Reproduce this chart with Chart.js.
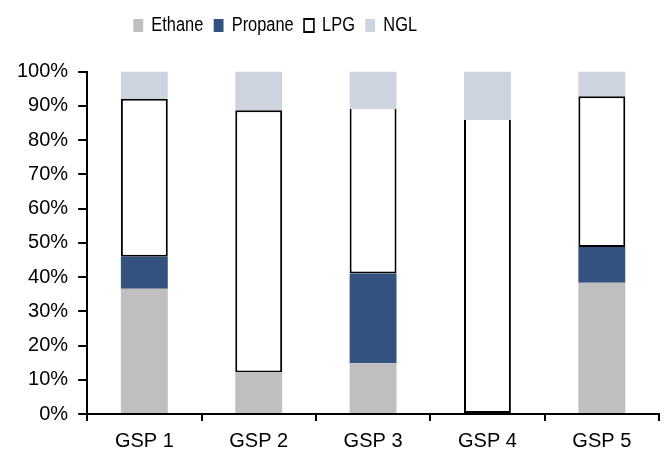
<!DOCTYPE html>
<html>
<head>
<meta charset="utf-8">
<script src="https://cdn.jsdelivr.net/npm/chart.js@4"></script>
<style>
  html, body { margin: 0; padding: 0; background: #fff; }
  #wrap { width: 666px; height: 453px; }
</style>
</head>
<body>
<div id="wrap"><canvas id="chart"></canvas></div>
<script>
// category labels and shares (%)
var plants  = ["GSP 1", "GSP 2", "GSP 3", "GSP 4", "GSP 5"];
var ethane  = [36.6, 12.1, 14.8, 0, 38.3];
var propane = [9.3, 0, 26.2, 0, 10.5];
var lpg     = [46.2, 76.6, 48.1, 85.9, 44.0];
var ngl     = [7.9, 11.3, 10.9, 14.1, 7.2];

var FONT = "'Liberation Sans', Arial, sans-serif";
var SQUEEZE = 0.82; // legend text in the original is a narrow face

// legend: left of centre, condensed, extra room under it
var legendSpot = {
  id: "legendSpot",
  beforeInit: function(chart) {
    var lg = chart.legend;
    var fit = lg.fit;
    lg.fit = function() {
      fit.apply(this, arguments);
      this.height += 26;
    };
    var draw = lg.draw;
    lg.draw = function() {
      var ctx = chart.ctx;
      ctx.save();
      ctx.scale(SQUEEZE, 1);
      draw.apply(this, arguments);
      ctx.restore();
    };
  },
  afterLayout: function(chart) {
    chart.legend.left = 150;
  }
};

new Chart(document.getElementById("chart"), {
  type: "bar",
  data: {
    labels: plants,
    datasets: [
      { label: "Ethane",  data: ethane,  backgroundColor: "#BFBFBF", borderWidth: 0 },
      { label: "Propane", data: propane, backgroundColor: "#33527F", borderWidth: 0 },
      { label: "LPG",     data: lpg,     backgroundColor: "#FFFFFF", borderColor: "#000000",
        borderWidth: 2,
        // GSP 3 and GSP 4 have no outline along the top in the original
        borderSkipped: function(c) { return (c.dataIndex === 2 || c.dataIndex === 3) ? "top" : false; } },
      { label: "NGL",     data: ngl,     backgroundColor: "#CDD4E0", borderWidth: 0 }
    ]
  },
  plugins: [legendSpot],
  options: {
    responsive: true,
    maintainAspectRatio: false,
    animation: false,
    layout: { padding: { top: 3, right: 7, left: 7, bottom: 0 } },
    datasets: { bar: { barPercentage: 0.41, categoryPercentage: 1.0 } },
    plugins: {
      tooltip: { enabled: false },
      legend: {
        position: "top",
        align: "start",
        labels: {
          color: "#000",
          font: { family: FONT, size: 20 },
          boxWidth: 12,
          boxHeight: 13,
          padding: 12.6
        }
      }
    },
    scales: {
      x: {
        stacked: true,
        border: { color: "#000", width: 2 },
        grid: { display: true, drawOnChartArea: false, color: "#000", lineWidth: 2, tickLength: 7 },
        ticks: { color: "#000", font: { family: FONT, size: 20 }, padding: 8 },
        afterFit: function(scale) { scale.height = 39; }
      },
      y: {
        stacked: true,
        min: 0,
        max: 100,
        border: { color: "#000", width: 2 },
        grid: { display: true, drawOnChartArea: false, color: "#000", lineWidth: 2, tickLength: 9 },
        ticks: {
          stepSize: 10,
          color: "#000",
          font: { family: FONT, size: 20 },
          padding: 10,
          callback: function(v) { return v + "%"; }
        }
      }
    }
  }
});
</script>
</body>
</html>
